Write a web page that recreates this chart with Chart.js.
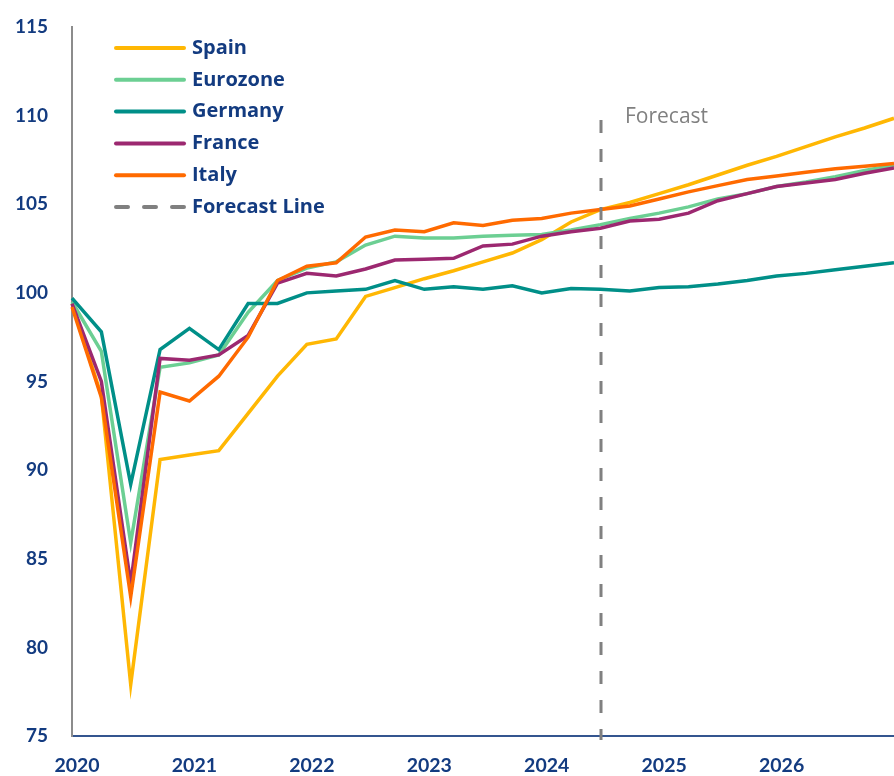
<!DOCTYPE html>
<html>
<head>
<meta charset="utf-8">
<script src="https://cdn.jsdelivr.net/npm/chart.js@4/dist/chart.umd.min.js"></script>
<style>
  html, body { margin: 0; padding: 0; background: #fff; }
  #wrap { position: relative; width: 894px; height: 776px; }
</style>
</head>
<body>
<div id="wrap"><canvas id="chart" width="894" height="776"></canvas></div>
<script>
  // quarterly index, 2020 Q1 .. 2027 Q1
  var quarters = [];
  for (var yr = 2020; yr <= 2027; yr++) {
    for (var q = 1; q <= 4; q++) {
      if (yr === 2027 && q > 1) break;
      quarters.push(yr + ' Q' + q);
    }
  }

  var spain = [99.4, 94.2, 77.9, 90.6, 90.85, 91.1, 93.2, 95.3, 97.1, 97.4, 99.8, 100.3, 100.8, 101.25, 101.75, 102.25, 103.0, 104.0, 104.7, 105.1, 105.6, 106.1, 106.65, 107.2, 107.7, 108.25, 108.8, 109.3, 109.85];
  var eurozone = [99.5, 96.7, 85.9, 95.8, 96.05, 96.5, 98.9, 100.7, 101.4, 101.75, 102.7, 103.2, 103.1, 103.1, 103.2, 103.25, 103.3, 103.55, 103.85, 104.2, 104.5, 104.85, 105.3, 105.6, 106.0, 106.25, 106.55, 106.9, 107.2];
  var germany = [99.7, 97.8, 89.2, 96.8, 98.0, 96.8, 99.4, 99.4, 100.0, 100.1, 100.2, 100.7, 100.2, 100.35, 100.2, 100.4, 100.0, 100.25, 100.2, 100.1, 100.3, 100.35, 100.5, 100.7, 100.95, 101.1, 101.3, 101.5, 101.7];
  var france = [99.4, 95.0, 83.6, 96.3, 96.2, 96.5, 97.6, 100.55, 101.1, 100.95, 101.35, 101.85, 101.9, 101.95, 102.65, 102.75, 103.2, 103.45, 103.65, 104.05, 104.15, 104.5, 105.2, 105.6, 106.0, 106.2, 106.4, 106.75, 107.05];
  var italy = [99.2, 94.1, 82.85, 94.4, 93.9, 95.3, 97.5, 100.7, 101.5, 101.7, 103.15, 103.55, 103.45, 103.95, 103.8, 104.1, 104.2, 104.5, 104.7, 104.9, 105.3, 105.7, 106.05, 106.4, 106.6, 106.8, 107.0, 107.15, 107.3];

  var forecastStart = 18; // index into quarters
  var yTicks = [75, 80, 85, 90, 95, 100, 105, 110, 115];

  var navy = '#133b80';
  var grey = '#808080';
  var tickFont = 'Lato, "Open Sans", sans-serif';
  var textFont = '"Open Sans", Lato, sans-serif';

  var series = [
    { label: 'Spain', data: spain, color: '#ffb703', order: 5 },
    { label: 'Eurozone', data: eurozone, color: '#6ccf93', order: 4 },
    { label: 'Germany', data: germany, color: '#008f88', order: 3 },
    { label: 'France', data: france, color: '#9c2870', order: 2 },
    { label: 'Italy', data: italy, color: '#ff6a00', order: 1 }
  ];

  var overlay = {
    id: 'overlay',
    afterDatasetsDraw: function (chart) {
      var ctx = chart.ctx;
      var xs = chart.scales.x;
      var area = chart.chartArea;
      var fx = Math.round(xs.getPixelForValue(forecastStart)) + 1;

      // forecast line
      ctx.save();
      ctx.strokeStyle = grey;
      ctx.lineWidth = 3;
      ctx.setLineDash([13, 16]);
      ctx.beginPath();
      ctx.moveTo(fx, 120);
      ctx.lineTo(fx, area.bottom + 4);
      ctx.stroke();
      ctx.setLineDash([]);
      ctx.fillStyle = grey;
      ctx.font = '21px ' + textFont;
      ctx.textBaseline = 'middle';
      ctx.fillText('Forecast', fx + 24, 117);

      // legend
      var items = series.map(function (s) { return { label: s.label, color: s.color, dash: false }; });
      items.push({ label: 'Forecast Line', color: grey, dash: true });
      ctx.font = 'bold 20px ' + textFont;
      items.forEach(function (it, i) {
        var y = 48 + i * 31.8;
        ctx.strokeStyle = it.color;
        ctx.lineWidth = 4;
        ctx.lineCap = 'round';
        ctx.setLineDash(it.dash ? [12, 16] : []);
        ctx.beginPath();
        ctx.moveTo(116, y);
        ctx.lineTo(184, y);
        ctx.stroke();
        ctx.setLineDash([]);
        ctx.fillStyle = navy;
        ctx.fillText(it.label, 192, y);
      });
      ctx.restore();
    }
  };

  new Chart(document.getElementById('chart'), {
    type: 'line',
    data: {
      labels: quarters,
      datasets: series.map(function (s) {
        return {
          label: s.label,
          data: s.data,
          borderColor: s.color,
          backgroundColor: s.color,
          borderWidth: 3.5,
          pointRadius: 0,
          tension: 0,
          order: s.order
        };
      })
    },
    options: {
      responsive: false,
      animation: false,
      layout: { autoPadding: false, padding: { top: 27, right: 0, left: 0, bottom: 0 } },
      plugins: { legend: { display: false }, tooltip: { enabled: false } },
      scales: {
        x: {
          type: 'category',
          offset: false,
          grid: { display: false, drawTicks: false },
          border: { display: true, color: '#34558f', width: 2 },
          ticks: {
            autoSkip: false,
            maxRotation: 0,
            padding: 18,
            labelOffset: 5,
            color: navy,
            font: { family: tickFont, size: 19.5, weight: 'bold' },
            callback: function (v, i) {
              return (i % 4 === 0 && i < quarters.length - 1) ? quarters[i].slice(0, 4) : '';
            }
          },
          afterFit: function (scale) {
            scale.height = 40;
            scale.paddingLeft = 0;
            scale.paddingRight = 0;
          }
        },
        y: {
          min: 75,
          max: 115,
          grid: { display: false, drawTicks: false },
          border: { display: true, color: '#8c8c8c', width: 2 },
          afterBuildTicks: function (scale) {
            scale.ticks = yTicks.map(function (v) { return { value: v }; });
          },
          ticks: {
            padding: 24,
            color: navy,
            font: { family: tickFont, size: 19, weight: 'bold' }
          },
          afterFit: function (scale) {
            scale.width = 72;
            scale.paddingTop = 0;
            scale.paddingBottom = 0;
          }
        }
      }
    },
    plugins: [overlay]
  });
</script>
</body>
</html>
